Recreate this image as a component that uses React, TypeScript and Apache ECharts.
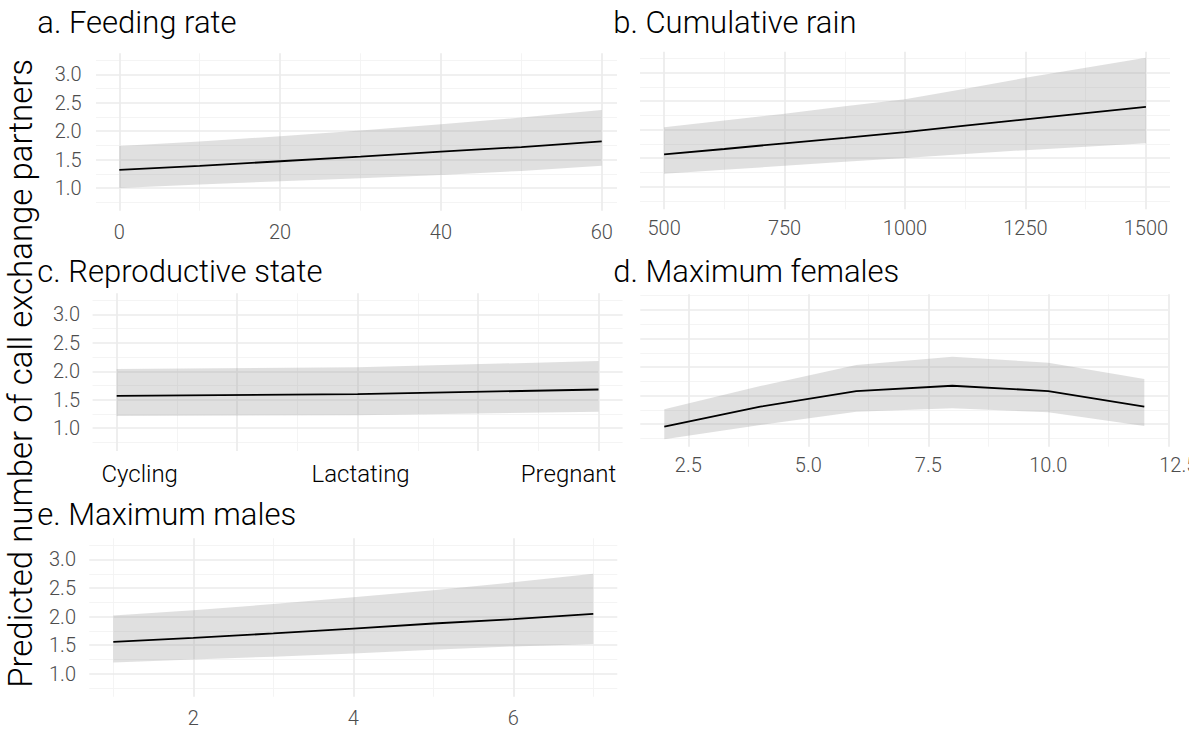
import React, { useEffect, useRef } from 'react';
import * as echarts from 'echarts';

// ---------- data ----------
const feedX = [0, 10, 20, 30, 40, 50, 60];
const feedFit = [1.32, 1.39, 1.47, 1.55, 1.64, 1.72, 1.82];
const feedLo = [1.0, 1.06, 1.12, 1.17, 1.23, 1.3, 1.39];
const feedHi = [1.74, 1.82, 1.91, 2.01, 2.12, 2.24, 2.37];

const rainX = [500, 625, 750, 875, 1000, 1125, 1250, 1375, 1500];
const rainFit = [1.565, 1.66, 1.76, 1.855, 1.955, 2.07, 2.18, 2.29, 2.4];
const rainLo = [1.224, 1.295, 1.364, 1.435, 1.5, 1.57, 1.64, 1.7, 1.76];
const rainHi = [2.04, 2.16, 2.28, 2.41, 2.535, 2.72, 2.91, 3.09, 3.265];

const repStates = ['Cycling', 'Lactating', 'Pregnant'];
const repFit = [1.57, 1.6, 1.68];
const repLo = [1.215, 1.23, 1.29];
const repHi = [2.04, 2.07, 2.18];

const femX = [2, 4, 6, 8, 10, 12];
const femFit = [0.953, 1.304, 1.579, 1.672, 1.579, 1.304];
const femLo = [0.733, 0.983, 1.217, 1.276, 1.205, 0.966];
const femHi = [1.26, 1.667, 2.035, 2.181, 2.075, 1.79];

const maleX = [1, 2, 3, 4, 5, 6, 7];
const maleFit = [1.56, 1.63, 1.706, 1.79, 1.88, 1.956, 2.05];
const maleLo = [1.2, 1.25, 1.3, 1.355, 1.42, 1.48, 1.52];
const maleHi = [2.02, 2.11, 2.22, 2.34, 2.46, 2.6, 2.75];

// tick labels / grid breaks
const yTicks = [1, 1.5, 2, 2.5, 3];
const yMinor = [0.75, 1.25, 1.75, 2.25, 2.75, 3.25];
const feedTicks = [0, 20, 40, 60];
const feedMinor = [10, 30, 50];
const rainTicks = [500, 750, 1000, 1250, 1500];
const rainMinor = [625, 875, 1125, 1375];
const repTicks = [1, 2, 3];
const repMajorGrid = [1, 1.5, 2, 2.5, 3];
const repMinor = [1.25, 1.75, 2.25, 2.75];
const femTicks = [2.5, 5, 7.5, 10, 12.5];
const femMinor = [3.75, 6.25, 8.75, 11.25];
const maleTicks = [2, 4, 6];
const maleMinor = [1, 3, 5, 7];

const titles = [
  'a. Feeding rate',
  'b. Cumulative rain',
  'c. Reproductive state',
  'd. Maximum females',
  'e. Maximum males',
];
const yTitle = 'Predicted number of call exchange partners';

const FONT = "Roboto, 'Liberation Sans', Arial, sans-serif";
const GREY = '#4D4D4D';
const RIBBON = 'rgba(153,153,153,0.3)';

function gridLines(xMajor: number[], xMinor: number[], yMajor: number[], yMin: number[]) {
  const maj = { color: '#EBEBEB', width: 1.7, type: 'solid' };
  const mn = { color: '#F3F3F3', width: 0.9, type: 'solid' };
  return [
    ...yMin.map((v) => ({ yAxis: v, lineStyle: mn })),
    ...xMinor.map((v) => ({ xAxis: v, lineStyle: mn })),
    ...yMajor.map((v) => ({ yAxis: v, lineStyle: maj })),
    ...xMajor.map((v) => ({ xAxis: v, lineStyle: maj })),
  ];
}

export default function App() {
  const ref = useRef<HTMLDivElement>(null);

  useEffect(() => {
    document.body.style.margin = '0';
    document.body.style.overflow = 'hidden';
    document.documentElement.style.overflow = 'hidden';
    if (!ref.current) return;
    const chart = echarts.init(ref.current, null, { renderer: 'svg' });

    const repX = repStates.map((_, i) => i + 1);
    const repKeys = ['first', 'mid', 'last'];
    const femLast = femTicks[femTicks.length - 1];

    const panels = [
      {
        grid: { left: 96, top: 53.3, width: 521, height: 157.4 },
        x: [-2.9, 61.9], y: [0.6, 3.37],
        xs: feedX, fit: feedFit, lo: feedLo, hi: feedHi,
        xTicks: feedTicks, xMajor: feedTicks, xMinor: feedMinor,
        xFmt: (v: number) => String(v), xMargin: 11.5, xSize: 20, xColor: GREY,
        yLabels: true, yMargin: 14.3,
      },
      {
        grid: { left: 640, top: 51.7, width: 530, height: 157.6 },
        x: [450, 1550], y: [0.6, 3.37],
        xs: rainX, fit: rainFit, lo: rainLo, hi: rainHi,
        xTicks: rainTicks, xMajor: rainTicks, xMinor: rainMinor,
        xFmt: (v: number) => String(v), xMargin: 8.6, xSize: 20, xColor: GREY,
        yLabels: false, yMargin: 14,
      },
      {
        grid: { left: 92.6, top: 293.3, width: 530, height: 157.7 },
        x: [0.9, 3.1], y: [0.6, 3.37],
        xs: repX, fit: repFit, lo: repLo, hi: repHi,
        xTicks: repTicks, xMajor: repMajorGrid, xMinor: repMinor,
        xFmt: (v: number) => {
          const k = Math.round(v) - 1;
          return repStates[k] ? `{${repKeys[k]}|${repStates[k]}}` : '';
        },
        xMargin: 11, xSize: 24, xColor: '#000000',
        yLabels: true, yMargin: 12.6,
      },
      {
        grid: { left: 640.3, top: 294.3, width: 528, height: 152.4 },
        x: [1.5, 12.5], y: [0.603, 3.275],
        xs: femX, fit: femFit, lo: femLo, hi: femHi,
        xTicks: femTicks, xMajor: femTicks, xMinor: femMinor,
        xFmt: (v: number) => (v === femLast ? `{edge|${v.toFixed(1)}}` : v.toFixed(1)),
        xMargin: 8.5, xSize: 20, xColor: GREY,
        yLabels: false, yMargin: 14,
      },
      {
        grid: { left: 89.3, top: 538.3, width: 528, height: 158.4 },
        x: [0.7, 7.3], y: [0.6, 3.37],
        xs: maleX, fit: maleFit, lo: maleLo, hi: maleHi,
        xTicks: maleTicks, xMajor: maleTicks, xMinor: maleMinor,
        xFmt: (v: number) => String(v), xMargin: 11, xSize: 20, xColor: GREY,
        yLabels: true, yMargin: 13.3,
      },
    ];

    const grids: any[] = [];
    const xAxes: any[] = [];
    const yAxes: any[] = [];
    const series: any[] = [];

    const catText = { fontSize: 24, fontFamily: FONT, fontWeight: 300, color: '#000000' };
    const numText = { fontSize: 20, fontFamily: FONT, fontWeight: 300, color: GREY };

    panels.forEach((p, i) => {
      grids.push({ ...p.grid, containLabel: false, outerBoundsMode: 'none' });
      xAxes.push({
        type: 'value', gridIndex: i, min: p.x[0], max: p.x[1],
        axisLine: { show: false, onZero: false }, axisTick: { show: false },
        splitLine: { show: false }, minorSplitLine: { show: false },
        axisLabel: {
          customValues: p.xTicks, margin: p.xMargin, color: p.xColor,
          fontSize: p.xSize, fontFamily: FONT, fontWeight: 300, formatter: p.xFmt,
          showMinLabel: true, showMaxLabel: true, hideOverlap: false,
          alignMinLabel: 'center', alignMaxLabel: 'center',
          rich: {
            first: { ...catText, padding: [0, 0, 0, 46] },
            mid: { ...catText, padding: [0, 0, 0, 6] },
            last: { ...catText, padding: [0, 60, 0, 0] },
            edge: { ...numText, padding: [0, 0, 0, 20] },
          },
        },
      });
      yAxes.push({
        type: 'value', gridIndex: i, min: p.y[0], max: p.y[1],
        axisLine: { show: false, onZero: false }, axisTick: { show: false },
        splitLine: { show: false }, minorSplitLine: { show: false },
        axisLabel: {
          show: p.yLabels, customValues: yTicks, margin: p.yMargin, color: GREY,
          fontSize: 20, fontFamily: FONT, fontWeight: 300, formatter: (v: number) => v.toFixed(1),
          showMinLabel: true, showMaxLabel: true,
        },
      });
      const xs = p.xs, lo = p.lo, hi = p.hi;
      series.push({
        type: 'custom', xAxisIndex: i, yAxisIndex: i, z: 2, silent: true,
        data: xs.map((x, j) => [x, lo[j], hi[j]]),
        encode: { x: 0, y: [1, 2] },
        renderItem: (params: any, api: any) => {
          if (params.dataIndex !== 0) return null;
          const pts: number[][] = [];
          for (let j = 0; j < xs.length; j++) pts.push(api.coord([xs[j], hi[j]]));
          for (let j = xs.length - 1; j >= 0; j--) pts.push(api.coord([xs[j], lo[j]]));
          return { type: 'polygon', shape: { points: pts }, style: { fill: RIBBON, stroke: 'none' } };
        },
      });
      series.push({
        type: 'line', xAxisIndex: i, yAxisIndex: i, z: 3,
        data: xs.map((x, j) => [x, p.fit[j]]),
        symbol: 'none', showSymbol: false, silent: true,
        lineStyle: { color: '#000000', width: 1.8 },
        markLine: {
          silent: true, z: 1, symbol: ['none', 'none'], label: { show: false },
          emphasis: { disabled: true },
          data: gridLines(p.xMajor, p.xMinor, yTicks, yMinor),
        },
      });
    });

    const titlePos = [
      [37.3, 22], [613.3, 22], [37.3, 271], [613.3, 271], [37.3, 514.3],
    ];
    const graphics: any[] = titles.map((t, i) => ({
      type: 'text', x: titlePos[i][0], y: titlePos[i][1], silent: true,
      style: { text: t, fill: '#000', font: `300 31px ${FONT}`, align: 'left', verticalAlign: 'middle' },
    }));
    graphics.push({
      type: 'text', x: 20.4, y: 373.4, rotation: Math.PI / 2, silent: true,
      style: { text: yTitle, fill: '#000', font: `300 33px ${FONT}`, align: 'center', verticalAlign: 'middle' },
    });

    chart.setOption({
      animation: false,
      backgroundColor: '#ffffff',
      grid: grids,
      xAxis: xAxes,
      yAxis: yAxes,
      series,
      graphic: graphics,
    });

    return () => chart.dispose();
  }, []);

  return <div ref={ref} style={{ width: 1230, height: 730 }} />;
}
